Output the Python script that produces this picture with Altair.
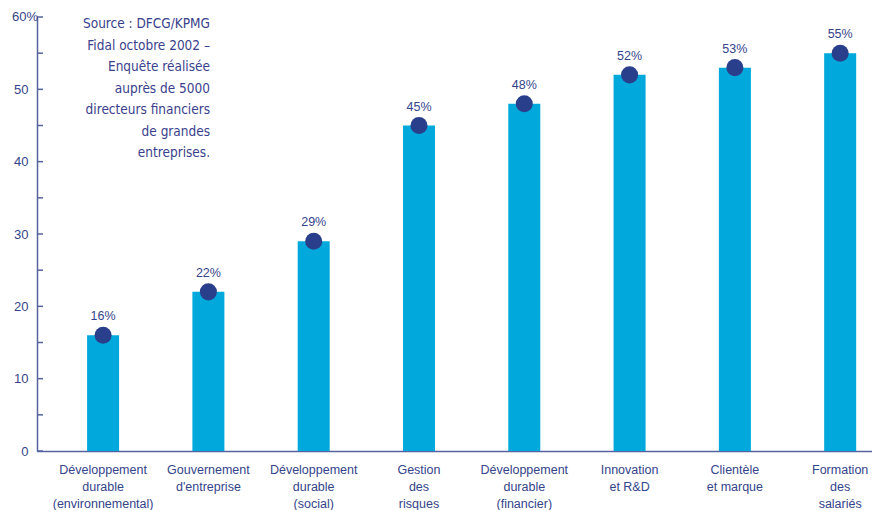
import altair as alt
import pandas as pd

# ---- data ----
categories = [
    "Développement|durable|(environnemental)",
    "Gouvernement|d'entreprise",
    "Développement|durable|(social)",
    "Gestion|des|risques",
    "Développement|durable|(financier)",
    "Innovation|et R&D",
    "Clientèle|et marque",
    "Formation|des|salariés",
]
values = [16, 22, 29, 45, 48, 52, 53, 55]
value_labels = ["16%", "22%", "29%", "45%", "48%", "52%", "53%", "55%"]
y_tick_values = [0, 10, 20, 30, 40, 50, 60]
tick_marks = [0, 5, 10, 15, 20, 25, 30, 35, 40, 45, 50, 55, 60]
top_label = ["60%"]
source_lines = [
    "Source : DFCG/KPMG",
    "Fidal octobre 2002 –",
    "Enquête réalisée",
    "auprès de 5000",
    "directeurs financiers",
    "de grandes",
    "entreprises.",
]

df = pd.DataFrame({"cat": categories, "val": values, "lab": value_labels})
ticks_df = pd.DataFrame({"t": tick_marks})
top_df = pd.DataFrame({"t": [60], "lab": top_label})
src_df = pd.DataFrame({"txt": ["\n".join(source_lines)]})

AXIS = "#5563a0"
TXT = "#34448a"
BAR = "#00a8dc"
DOT = "#2a3f8c"
FONT = "Liberation Sans"

x = alt.X(
    "cat:N",
    sort=None,
    scale=alt.Scale(paddingInner=0.696, paddingOuter=0.313, align=0.76),
    axis=alt.Axis(
        title=None,
        labelAngle=0,
        ticks=False,
        domainColor=AXIS,
        domainWidth=1.5,
        labelExpr="split(datum.label, '|')",
        labelColor=TXT,
        labelFont=FONT,
        labelFontSize=12.5,
        labelLineHeight=17,
        labelPadding=12,
        labelBaseline="top",
    ),
)
y = alt.Y(
    "val:Q",
    scale=alt.Scale(domain=[0, 60], nice=False),
    axis=alt.Axis(
        title=None,
        values=y_tick_values,
        ticks=False,
        grid=False,
        domainColor=AXIS,
        domainWidth=1.5,
        labelExpr="datum.value == 60 ? '' : datum.label",
        labelColor=TXT,
        labelFont=FONT,
        labelFontSize=13,
        labelPadding=9,
    ),
)

base = alt.Chart(df)
bars = base.mark_bar(color=BAR).encode(x=x, y=y)
dots = base.mark_circle(color=DOT, opacity=1, size=290).encode(x=x, y=y)
texts = base.mark_text(color=TXT, font=FONT, fontSize=12.5, dy=-19).encode(
    x=x, y=y, text="lab:N"
)
ticks = alt.Chart(ticks_df).mark_rule(color=AXIS, strokeWidth=1.5).encode(
    y=alt.Y("t:Q"), x=alt.value(0), x2=alt.value(6)
)
top = alt.Chart(top_df).mark_text(
    color=TXT, font=FONT, fontSize=13, align="left"
).encode(y=alt.Y("t:Q"), x=alt.value(-25), text="lab:N")
src = alt.Chart(src_df).mark_text(
    color="#3a3f8c",
    font="DejaVu Sans Condensed, Roboto Condensed, Liberation Sans, sans-serif",
    fontSize=13.5,
    align="right",
    baseline="top",
    lineBreak="\n",
    lineHeight=21.5,
).encode(x=alt.value(173), y=alt.value(0), text="txt:N")

chart = (
    alt.layer(bars, dots, texts, ticks, top, src)
    .properties(
        width=835,
        height=434,
        autosize=alt.AutoSizeParams(type="none"),
        padding={"left": 37, "top": 17, "right": 0, "bottom": 59},
        background="white",
    )
    .configure_view(stroke=None)
)

chart.save("out.html", embed_options={"renderer": "svg", "actions": False})
